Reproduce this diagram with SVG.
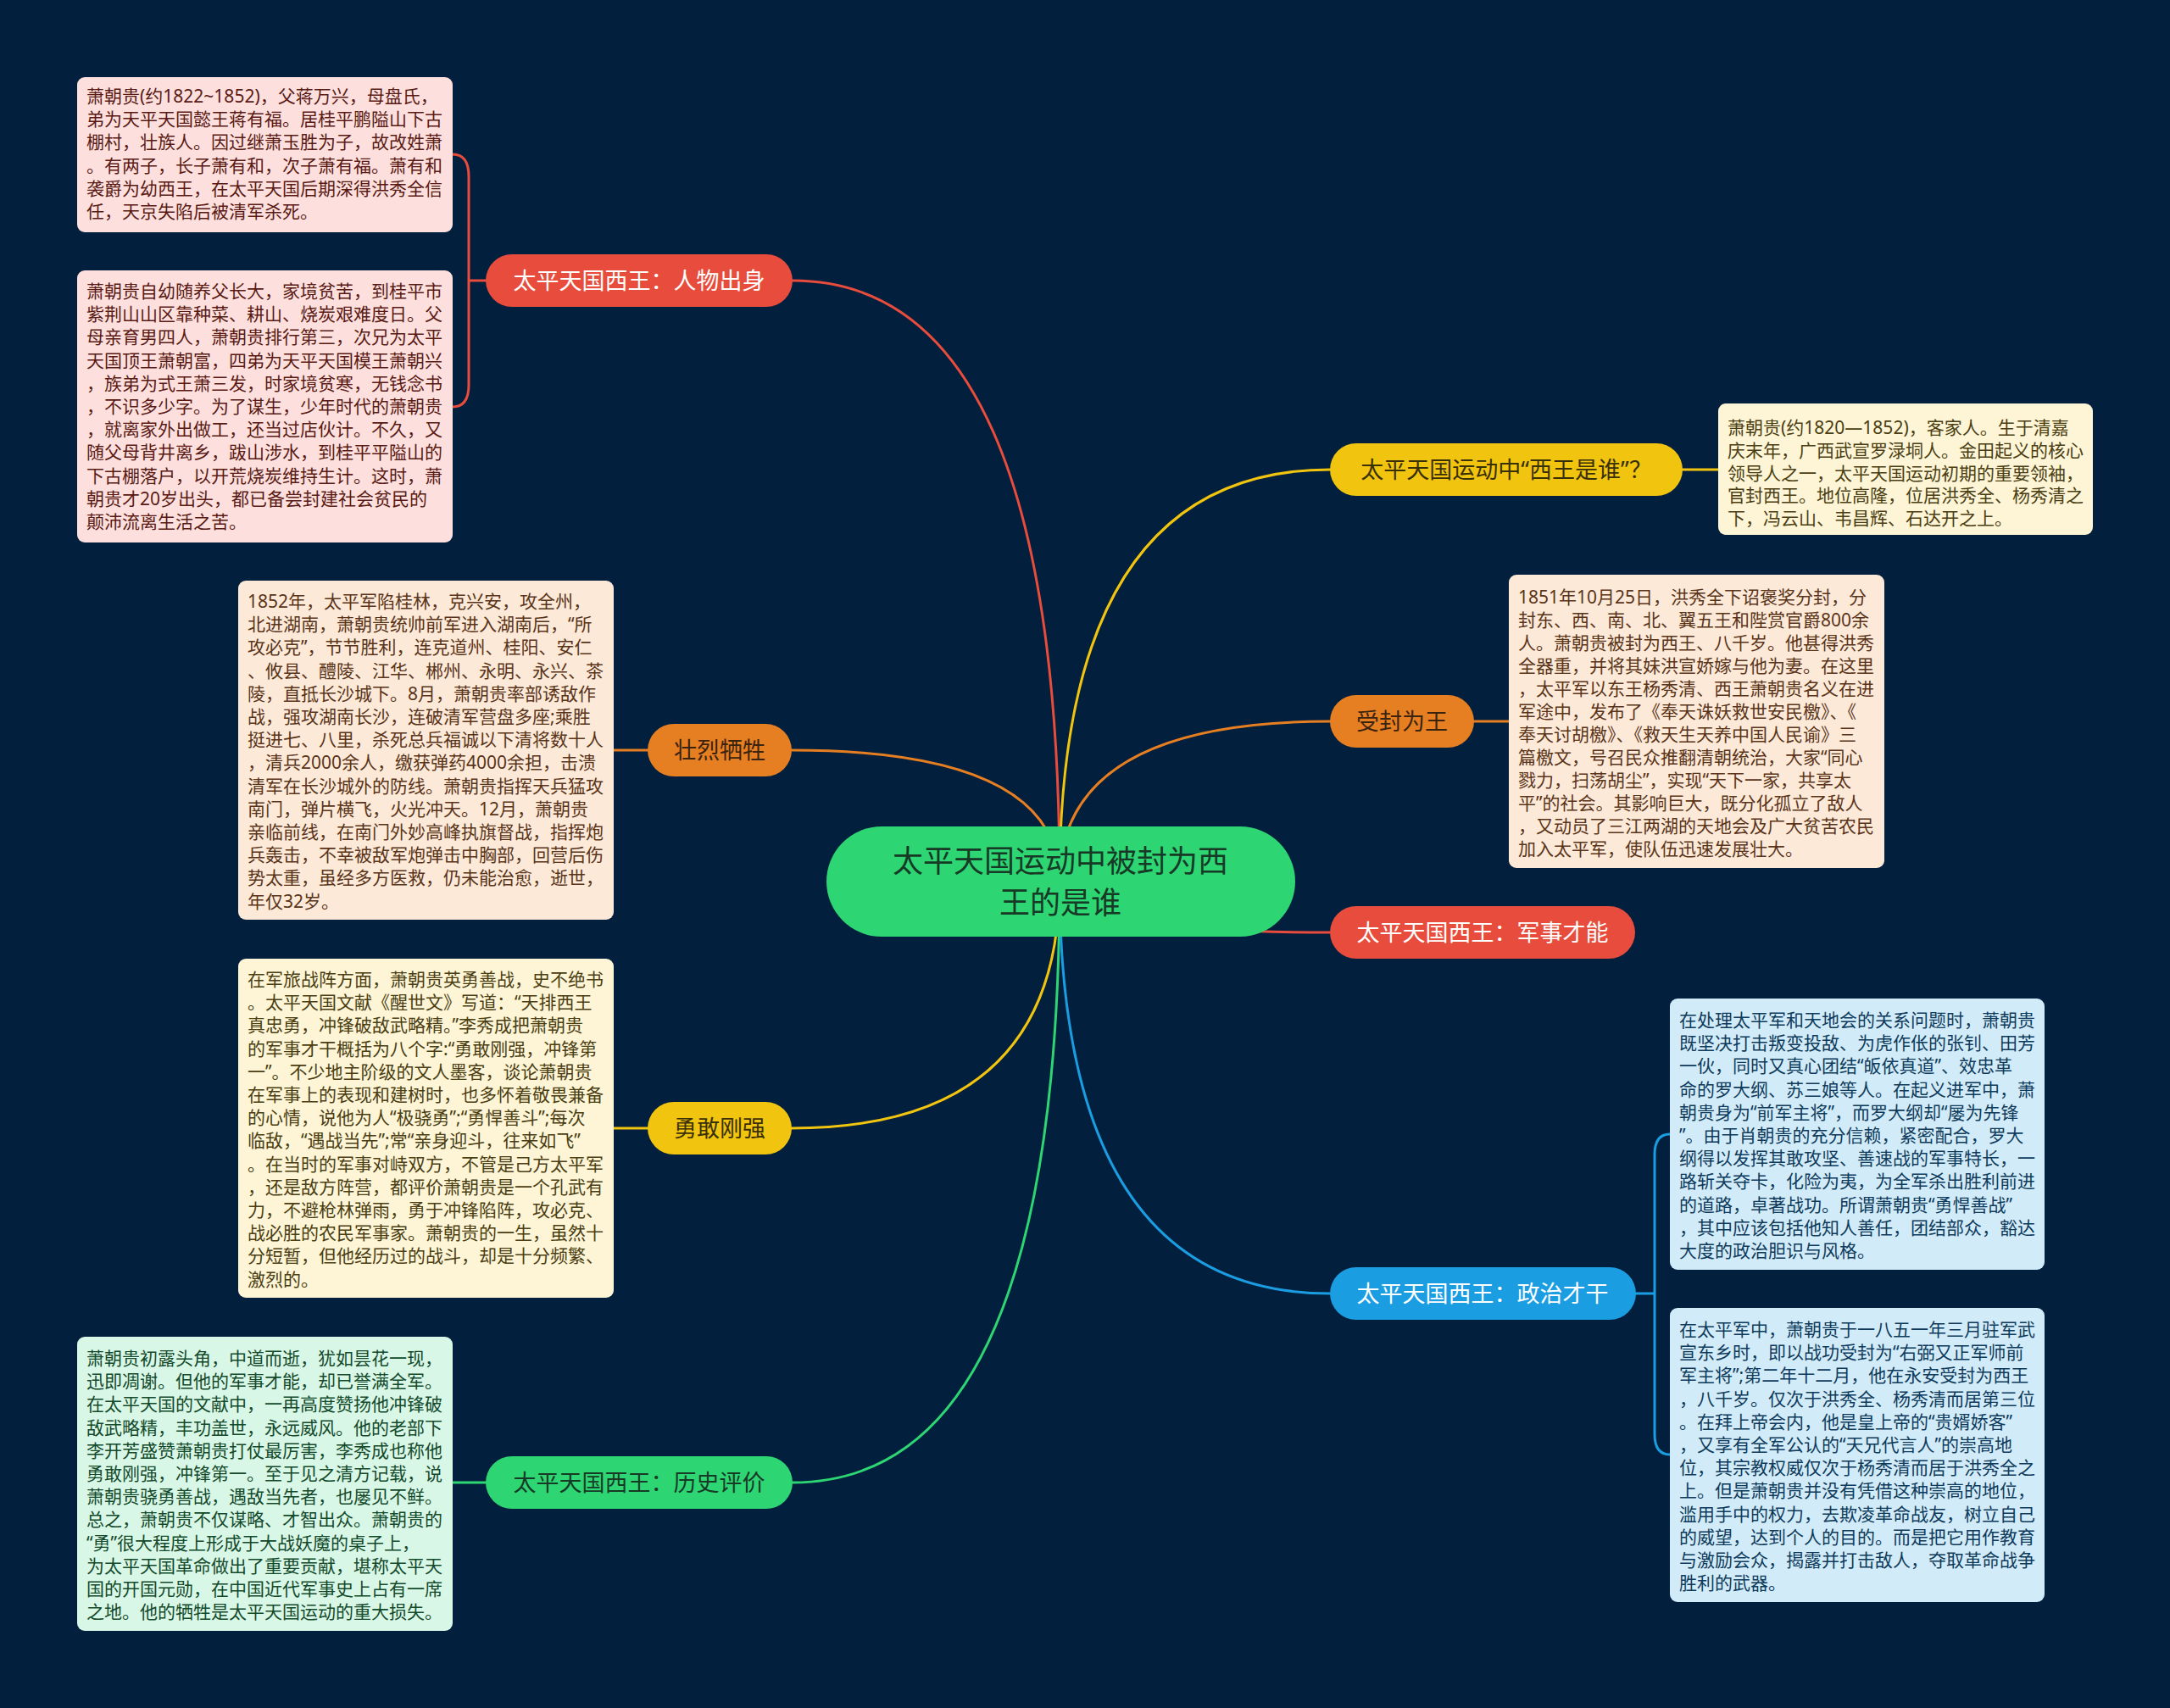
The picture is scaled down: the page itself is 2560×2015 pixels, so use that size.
<svg xmlns="http://www.w3.org/2000/svg" width="2560" height="2015" viewBox="0 0 2560 2015">
<style>
.bg{fill:#021f3d}
.t{font-family:"Noto Sans","Noto Sans CJK SC",sans-serif}
.bt{font-size:21px}
.lbl{font-size:27px}
.c{fill:none;stroke-width:3;stroke-linecap:round}
.red{stroke:#e74c3c}.org{stroke:#e67e22}.yel{stroke:#f1c40f}.grn{stroke:#2ed573}.blu{stroke:#1b9de2}
.pk{fill:#fde0de}.pkt{fill:#5a1a14}
.pe{fill:#fce9d8}.pet{fill:#5a3418}
.ye{fill:#fdf5d6}.yet{fill:#4b3e12}
.gr{fill:#d9f7e6}.grt{fill:#134a2c}
.bl{fill:#d2ebf8}.blt{fill:#0e3b5c}
</style>
<rect class="bg" x="0" y="0" width="2560" height="2015"/>

<g id="connectors">
<path class="c red" d="M1250 1040 Q1250 331 935 331"/>
<path class="c org" d="M1250 1040 Q1250 885 934 885"/>
<path class="c yel" d="M1250 1040 Q1250 1331 934 1331"/>
<path class="c grn" d="M1250 1040 Q1250 1749 935 1749"/>
<path class="c yel" d="M1250 1040 Q1250 554 1569 554"/>
<path class="c org" d="M1250 1040 Q1250 851 1569 851"/>
<path class="c red" d="M1250 1040 Q1250 1100 1569 1100"/>
<path class="c blu" d="M1250 1040 Q1250 1526 1569 1526"/>
<path class="c red" d="M534 182 Q553 182 553 208 L553 454 Q553 480 534 480 M553 331 L575 331"/>
<path class="c org" d="M724 885 L764 885"/>
<path class="c yel" d="M724 1331 L764 1331"/>
<path class="c grn" d="M534 1749 L573 1749"/>
<path class="c yel" d="M1985 554 L2027 554"/>
<path class="c org" d="M1739 851 L1780 851"/>
<path class="c blu" d="M1970 1338 Q1952 1338 1952 1362 L1952 1692 Q1952 1716 1970 1716 M1930 1526 L1952 1526"/>
</g>

<g id="center">
<rect x="975" y="975" width="553" height="130" rx="65" fill="#2ed573"/>
<text class="t" font-size="36" fill="#173a26" text-anchor="middle"><tspan x="1251" y="1029">太平天国运动中被封为西</tspan><tspan x="1251" y="1078">王的是谁</tspan></text>
</g>

<g id="b1"><rect x="573" y="300" width="362" height="62" rx="31" fill="#e74c3c"/><text class="t lbl" x="754" y="341" fill="#ffffff" text-anchor="middle">太平天国西王：人物出身</text></g>
<g id="b2"><rect x="764" y="854" width="170" height="62" rx="31" fill="#e67e22"/><text class="t lbl" x="849" y="895" fill="#3a2410" text-anchor="middle">壮烈牺牲</text></g>
<g id="b3"><rect x="764" y="1300" width="170" height="62" rx="31" fill="#f1c40f"/><text class="t lbl" x="849" y="1341" fill="#3a3008" text-anchor="middle">勇敢刚强</text></g>
<g id="b4"><rect x="573" y="1718" width="362" height="62" rx="31" fill="#2ed573"/><text class="t lbl" x="754" y="1759" fill="#173a26" text-anchor="middle">太平天国西王：历史评价</text></g>
<g id="b5"><rect x="1569" y="523" width="416" height="62" rx="31" fill="#f1c40f"/><text class="t lbl" x="1777" y="564" fill="#3a3008" text-anchor="middle">太平天国运动中“西王是谁”？</text></g>
<g id="b6"><rect x="1569" y="820" width="170" height="62" rx="31" fill="#e67e22"/><text class="t lbl" x="1654" y="861" fill="#3a2410" text-anchor="middle">受封为王</text></g>
<g id="b7"><rect x="1569" y="1069" width="360" height="62" rx="31" fill="#e74c3c"/><text class="t lbl" x="1749" y="1110" fill="#ffffff" text-anchor="middle">太平天国西王：军事才能</text></g>
<g id="b8"><rect x="1569" y="1495" width="361" height="62" rx="31" fill="#1b9de2"/><text class="t lbl" x="1749" y="1536" fill="#ffffff" text-anchor="middle">太平天国西王：政治才干</text></g>

<g id="n1"><rect class="pk" x="91" y="91" width="443" height="183" rx="9"/>
<text class="t bt pkt" x="102" y="121"><tspan x="102">萧朝贵(约1822~1852)，父蒋万兴，母盘氏，</tspan><tspan x="102" dy="27.2">弟为天平天国懿王蒋有福。居桂平鹏隘山下古</tspan><tspan x="102" dy="27.2">棚村，壮族人。因过继萧玉胜为子，故改姓萧</tspan><tspan x="102" dy="27.2">。有两子，长子萧有和，次子萧有福。萧有和</tspan><tspan x="102" dy="27.2">袭爵为幼西王，在太平天国后期深得洪秀全信</tspan><tspan x="102" dy="27.2">任，天京失陷后被清军杀死。</tspan></text></g>

<g id="n2"><rect class="pk" x="91" y="319" width="443" height="321" rx="9"/>
<text class="t bt pkt" x="102" y="351"><tspan x="102">萧朝贵自幼随养父长大，家境贫苦，到桂平市</tspan><tspan x="102" dy="27.2">紫荆山山区靠种菜、耕山、烧炭艰难度日。父</tspan><tspan x="102" dy="27.2">母亲育男四人，萧朝贵排行第三，次兄为太平</tspan><tspan x="102" dy="27.2">天国顶王萧朝富，四弟为天平天国模王萧朝兴</tspan><tspan x="102" dy="27.2">，族弟为式王萧三发，时家境贫寒，无钱念书</tspan><tspan x="102" dy="27.2">，不识多少字。为了谋生，少年时代的萧朝贵</tspan><tspan x="102" dy="27.2">，就离家外出做工，还当过店伙计。不久，又</tspan><tspan x="102" dy="27.2">随父母背井离乡，跋山涉水，到桂平平隘山的</tspan><tspan x="102" dy="27.2">下古棚落户，以开荒烧炭维持生计。这时，萧</tspan><tspan x="102" dy="27.2">朝贵才20岁出头，都已备尝封建社会贫民的</tspan><tspan x="102" dy="27.2">颠沛流离生活之苦。</tspan></text></g>

<g id="n3"><rect class="pe" x="281" y="685" width="443" height="400" rx="9"/>
<text class="t bt pet" x="292" y="717"><tspan x="292">1852年，太平军陷桂林，克兴安，攻全州，</tspan><tspan x="292" dy="27.2">北进湖南，萧朝贵统帅前军进入湖南后，“所</tspan><tspan x="292" dy="27.2">攻必克”，节节胜利，连克道州、桂阳、安仁</tspan><tspan x="292" dy="27.2">、攸县、醴陵、江华、郴州、永明、永兴、茶</tspan><tspan x="292" dy="27.2">陵，直抵长沙城下。8月，萧朝贵率部诱敌作</tspan><tspan x="292" dy="27.2">战，强攻湖南长沙，连破清军营盘多座;乘胜</tspan><tspan x="292" dy="27.2">挺进七、八里，杀死总兵福诚以下清将数十人</tspan><tspan x="292" dy="27.2">，清兵2000余人，缴获弹药4000余担，击溃</tspan><tspan x="292" dy="27.2">清军在长沙城外的防线。萧朝贵指挥天兵猛攻</tspan><tspan x="292" dy="27.2">南门，弹片横飞，火光冲天。12月，萧朝贵</tspan><tspan x="292" dy="27.2">亲临前线，在南门外妙高峰执旗督战，指挥炮</tspan><tspan x="292" dy="27.2">兵轰击，不幸被敌军炮弹击中胸部，回营后伤</tspan><tspan x="292" dy="27.2">势太重，虽经多方医救，仍未能治愈，逝世，</tspan><tspan x="292" dy="27.2">年仅32岁。</tspan></text></g>

<g id="n4"><rect class="ye" x="281" y="1131" width="443" height="400" rx="9"/>
<text class="t bt yet" x="292" y="1163"><tspan x="292">在军旅战阵方面，萧朝贵英勇善战，史不绝书</tspan><tspan x="292" dy="27.2">。太平天国文献《醒世文》写道：“天排西王</tspan><tspan x="292" dy="27.2">真忠勇，冲锋破敌武略精。”李秀成把萧朝贵</tspan><tspan x="292" dy="27.2">的军事才干概括为八个字:“勇敢刚强，冲锋第</tspan><tspan x="292" dy="27.2">一”。不少地主阶级的文人墨客，谈论萧朝贵</tspan><tspan x="292" dy="27.2">在军事上的表现和建树时，也多怀着敬畏兼备</tspan><tspan x="292" dy="27.2">的心情，说他为人“极骁勇”;“勇悍善斗”;每次</tspan><tspan x="292" dy="27.2">临敌，“遇战当先”;常“亲身迎斗，往来如飞”</tspan><tspan x="292" dy="27.2">。在当时的军事对峙双方，不管是己方太平军</tspan><tspan x="292" dy="27.2">，还是敌方阵营，都评价萧朝贵是一个孔武有</tspan><tspan x="292" dy="27.2">力，不避枪林弹雨，勇于冲锋陷阵，攻必克、</tspan><tspan x="292" dy="27.2">战必胜的农民军事家。萧朝贵的一生，虽然十</tspan><tspan x="292" dy="27.2">分短暂，但他经历过的战斗，却是十分频繁、</tspan><tspan x="292" dy="27.2">激烈的。</tspan></text></g>

<g id="n5"><rect class="gr" x="91" y="1577" width="443" height="347" rx="9"/>
<text class="t bt grt" x="102" y="1610"><tspan x="102">萧朝贵初露头角，中道而逝，犹如昙花一现，</tspan><tspan x="102" dy="27.2">迅即凋谢。但他的军事才能，却已誉满全军。</tspan><tspan x="102" dy="27.2">在太平天国的文献中，一再高度赞扬他冲锋破</tspan><tspan x="102" dy="27.2">敌武略精，丰功盖世，永远威风。他的老部下</tspan><tspan x="102" dy="27.2">李开芳盛赞萧朝贵打仗最厉害，李秀成也称他</tspan><tspan x="102" dy="27.2">勇敢刚强，冲锋第一。至于见之清方记载，说</tspan><tspan x="102" dy="27.2">萧朝贵骁勇善战，遇敌当先者，也屡见不鲜。</tspan><tspan x="102" dy="27.2">总之，萧朝贵不仅谋略、才智出众。萧朝贵的</tspan><tspan x="102" dy="27.2">“勇”很大程度上形成于大战妖魔的桌子上，</tspan><tspan x="102" dy="27.2">为太平天国革命做出了重要贡献，堪称太平天</tspan><tspan x="102" dy="27.2">国的开国元勋，在中国近代军事史上占有一席</tspan><tspan x="102" dy="27.2">之地。他的牺牲是太平天国运动的重大损失。</tspan></text></g>

<g id="n6"><rect class="ye" x="2027" y="476" width="442" height="155" rx="9"/>
<text class="t bt yet" x="2038" y="512"><tspan x="2038">萧朝贵(约1820—1852)，客家人。生于清嘉</tspan><tspan x="2038" dy="26.8">庆末年，广西武宣罗渌垌人。金田起义的核心</tspan><tspan x="2038" dy="26.8">领导人之一，太平天国运动初期的重要领袖，</tspan><tspan x="2038" dy="26.8">官封西王。地位高隆，位居洪秀全、杨秀清之</tspan><tspan x="2038" dy="26.8">下，冯云山、韦昌辉、石达开之上。</tspan></text></g>

<g id="n7"><rect class="pe" x="1780" y="678" width="443" height="346" rx="9"/>
<text class="t bt pet" x="1791" y="712"><tspan x="1791">1851年10月25日，洪秀全下诏褒奖分封，分</tspan><tspan x="1791" dy="27">封东、西、南、北、翼五王和陛赏官爵800余</tspan><tspan x="1791" dy="27">人。萧朝贵被封为西王、八千岁。他甚得洪秀</tspan><tspan x="1791" dy="27">全器重，并将其妹洪宣娇嫁与他为妻。在这里</tspan><tspan x="1791" dy="27">，太平军以东王杨秀清、西王萧朝贵名义在进</tspan><tspan x="1791" dy="27">军途中，发布了《奉天诛妖救世安民檄》、《</tspan><tspan x="1791" dy="27">奉天讨胡檄》、《救天生天养中国人民谕》三</tspan><tspan x="1791" dy="27">篇檄文，号召民众推翻清朝统治，大家“同心</tspan><tspan x="1791" dy="27">戮力，扫荡胡尘”，实现“天下一家，共享太</tspan><tspan x="1791" dy="27">平”的社会。其影响巨大，既分化孤立了敌人</tspan><tspan x="1791" dy="27">，又动员了三江两湖的天地会及广大贫苦农民</tspan><tspan x="1791" dy="27">加入太平军，使队伍迅速发展壮大。</tspan></text></g>

<g id="n8"><rect class="bl" x="1970" y="1178" width="442" height="320" rx="9"/>
<text class="t bt blt" x="1981" y="1211"><tspan x="1981">在处理太平军和天地会的关系问题时，萧朝贵</tspan><tspan x="1981" dy="27.2">既坚决打击叛变投敌、为虎作伥的张钊、田芳</tspan><tspan x="1981" dy="27.2">一伙，同时又真心团结“皈依真道”、效忠革</tspan><tspan x="1981" dy="27.2">命的罗大纲、苏三娘等人。在起义进军中，萧</tspan><tspan x="1981" dy="27.2">朝贵身为“前军主将”，而罗大纲却“屡为先锋</tspan><tspan x="1981" dy="27.2">”。由于肖朝贵的充分信赖，紧密配合，罗大</tspan><tspan x="1981" dy="27.2">纲得以发挥其敢攻坚、善速战的军事特长，一</tspan><tspan x="1981" dy="27.2">路斩关夺卡，化险为夷，为全军杀出胜利前进</tspan><tspan x="1981" dy="27.2">的道路，卓著战功。所谓萧朝贵“勇悍善战”</tspan><tspan x="1981" dy="27.2">，其中应该包括他知人善任，团结部众，豁达</tspan><tspan x="1981" dy="27.2">大度的政治胆识与风格。</tspan></text></g>

<g id="n9"><rect class="bl" x="1970" y="1543" width="442" height="347" rx="9"/>
<text class="t bt blt" x="1981" y="1576"><tspan x="1981">在太平军中，萧朝贵于一八五一年三月驻军武</tspan><tspan x="1981" dy="27.2">宣东乡时，即以战功受封为“右弼又正军师前</tspan><tspan x="1981" dy="27.2">军主将”;第二年十二月，他在永安受封为西王</tspan><tspan x="1981" dy="27.2">，八千岁。仅次于洪秀全、杨秀清而居第三位</tspan><tspan x="1981" dy="27.2">。在拜上帝会内，他是皇上帝的“贵婿娇客”</tspan><tspan x="1981" dy="27.2">，又享有全军公认的“天兄代言人”的崇高地</tspan><tspan x="1981" dy="27.2">位，其宗教权威仅次于杨秀清而居于洪秀全之</tspan><tspan x="1981" dy="27.2">上。但是萧朝贵并没有凭借这种崇高的地位，</tspan><tspan x="1981" dy="27.2">滥用手中的权力，去欺凌革命战友，树立自己</tspan><tspan x="1981" dy="27.2">的威望，达到个人的目的。而是把它用作教育</tspan><tspan x="1981" dy="27.2">与激励会众，揭露并打击敌人，夺取革命战争</tspan><tspan x="1981" dy="27.2">胜利的武器。</tspan></text></g>
</svg>
